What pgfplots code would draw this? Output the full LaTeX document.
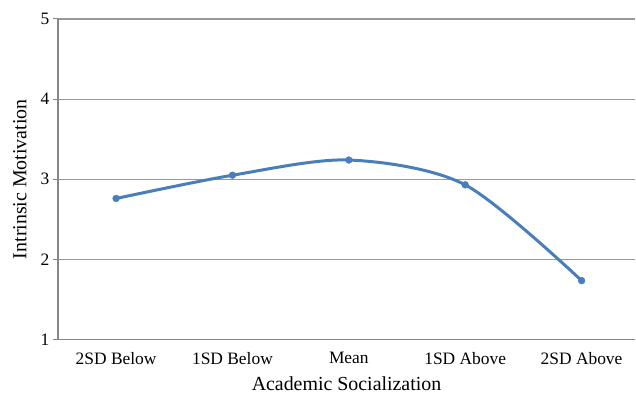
\documentclass[border=0pt]{standalone}
\usepackage{pgfplots}
\pgfplotsset{compat=1.18}
\usepackage{fontspec}
\setmainfont{Liberation Serif}
\definecolor{lineblue}{HTML}{4A7EBB}
\definecolor{gridgray}{HTML}{999999}
\definecolor{axisgray}{HTML}{868686}
\begin{document}
\begin{tikzpicture}
\begin{axis}[
  scale only axis, width=578bp, height=321bp,
  xmin=-0.5, xmax=4.46, ymin=1, ymax=5,
  axis lines*=left,
  axis line style={axisgray, line width=1.8bp},
  xtick={0,1,2,3,4},
  xticklabels={2SD Below,1SD Below,Mean,1SD Above,2SD Above},
  x tick style={draw=none},
  xticklabel style={yshift=-4bp},
  extra x ticks={-0.5,0.5,1.5,2.5,3.5},
  extra x tick labels={},
  extra x tick style={tick style={draw=axisgray, line width=1bp}, major tick length=5bp},
  ytick={1,2,3,4,5},
  y tick style={draw=axisgray, line width=1bp},
  ymajorgrids,
  grid style={gridgray, line width=1.1bp},
  tick align=outside, major tick length=5bp,
  tick label style={font=\fontsize{17.5}{20}\selectfont},
  /pgf/number format/assume math mode=true,
  xlabel={Academic Socialization},
  ylabel={Intrinsic Motivation},
  label style={font=\fontsize{20}{24}\selectfont},
  xlabel style={at={(axis description cs:0.5,-0.139)}, anchor=center},
  ylabel style={at={(axis description cs:-0.066,0.5)}, anchor=center},
  clip=false,
]
\addplot[lineblue, line width=3bp, smooth, tension=0.5, mark=*, mark size=3.4bp, mark options={fill=lineblue, draw=lineblue, line width=0.5bp}]
  coordinates {(0,2.76) (1,3.05) (2,3.24) (3,2.93) (4,1.735)};
\coordinate (bl) at (rel axis cs:0,0);
\coordinate (tr) at (rel axis cs:1,1);
\end{axis}
\path ([shift={(-58bp,-55bp)}]bl) rectangle ([shift={(0bp,19bp)}]tr);
\end{tikzpicture}
\end{document}
